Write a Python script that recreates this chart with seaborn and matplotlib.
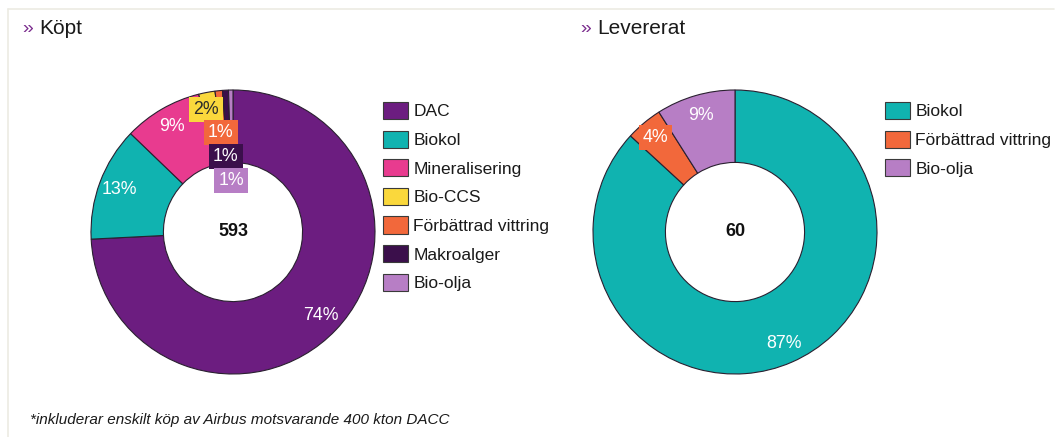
import matplotlib
matplotlib.use("Agg")
import matplotlib.pyplot as plt
from matplotlib.lines import Line2D
from matplotlib.patches import Patch
import seaborn as sns
import numpy as np

# Data (kton)
kopt_categories = ["DAC", "Biokol", "Mineralisering", "Bio-CCS",
                   "Förbättrad vittring", "Makroalger", "Bio-olja"]
kopt_values = [440, 77, 53, 11, 5, 4, 3]
kopt_total_label = "593"

lev_categories = ["Biokol", "Förbättrad vittring", "Bio-olja"]
lev_values = [52.1, 2.5, 5.4]
lev_total_label = "60"

colors = {
    "DAC": "#6c1d80",
    "Biokol": "#10b3b0",
    "Mineralisering": "#e83b8f",
    "Bio-CCS": "#fad83c",
    "Förbättrad vittring": "#f2683b",
    "Makroalger": "#3b0f4b",
    "Bio-olja": "#b77ec5",
}

sns.set_theme(style="white")
plt.rcParams["font.family"] = ["Liberation Sans", "DejaVu Sans"]

W, H, DPI = 1057, 437, 100
fig = plt.figure(figsize=(W / DPI, H / DPI), dpi=DPI)
fig.patch.set_facecolor("white")

# light frame along top and left edges
frame_c = "#ecebe3"
fig.add_artist(Line2D([8 / W, 1054 / W], [1 - 9 / H, 1 - 9 / H], color=frame_c, lw=1.2))
fig.add_artist(Line2D([8 / W, 8 / W], [0, 1 - 9 / H], color=frame_c, lw=1.2))


def donut(cx, cy, r, cats, vals, total_label, overrides, dark_text):
    ax = fig.add_axes([(cx - r) / W, 1 - (cy + r) / H, 2 * r / W, 2 * r / H])
    pal = sns.color_palette([colors[c] for c in cats])
    wedges, _ = ax.pie(vals, colors=pal, startangle=90, counterclock=False,
                       radius=1.0,
                       wedgeprops=dict(width=0.51, edgecolor="#2a2030", linewidth=0.8,
                                       clip_on=False))
    ax.set_xlim(-1.0, 1.0)
    ax.set_ylim(-1.0, 1.0)
    ax.set_aspect("equal")
    ax.axis("off")
    total = float(sum(vals))
    for i, (w, v, c) in enumerate(zip(wedges, vals, cats)):
        pct = 100 * v / total
        txt = f"{pct:.0f}%"
        if i in overrides:
            x, y = overrides[i]
            box = dict(boxstyle="square,pad=0.22", facecolor=colors[c], edgecolor="none")
        else:
            ang = np.deg2rad((w.theta1 + w.theta2) / 2)
            x, y = 0.855 * np.cos(ang), 0.855 * np.sin(ang)
            box = None
        tc = "#2b2b2b" if c in dark_text else "white"
        ax.text(x, y, txt, ha="center", va="center", fontsize=12.8, color=tc, bbox=box)
    ax.text(0, 0, total_label, ha="center", va="center", fontsize=13,
            fontweight="bold", color="#111111")
    return ax


donut(233, 232, 142, kopt_categories, kopt_values, kopt_total_label,
      overrides={3: (-0.19, 0.86), 4: (-0.085, 0.70), 5: (-0.05, 0.53), 6: (-0.014, 0.36)},
      dark_text={"Bio-CCS"})
donut(735, 232, 142, lev_categories, lev_values, lev_total_label,
      overrides={1: (-0.56, 0.665)}, dark_text=set())


def legend(cats, x, ytop):
    handles = [Patch(facecolor=colors[c], edgecolor="#3a3a3a", linewidth=0.8) for c in cats]
    fig.legend(handles, cats, loc="upper left", bbox_to_anchor=(x / W, 1 - ytop / H),
               frameon=False, fontsize=12.5, handlelength=1.45, handleheight=1.15,
               labelspacing=0.64, handletextpad=0.3, borderpad=0, borderaxespad=0,
               labelcolor="#1a1a1a")


legend(kopt_categories, 383, 102)
legend(lev_categories, 885, 102)

# section titles
for x, title in [(22, "Köpt"), (580, "Levererat")]:
    fig.text(x / W, 1 - 29 / H, "»", color="#7b2d8e", fontsize=14,
             va="center", ha="left")
    fig.text((x + 17) / W, 1 - 28 / H, title, color="#1a1a1a", fontsize=15,
             va="center", ha="left")

fig.text(30 / W, 1 - 420 / H, "*inkluderar enskilt köp av Airbus motsvarande 400 kton DACC",
         fontsize=11, style="italic", color="#1a1a1a", va="center", ha="left")

fig.savefig("out.png", dpi=DPI, facecolor="white")
